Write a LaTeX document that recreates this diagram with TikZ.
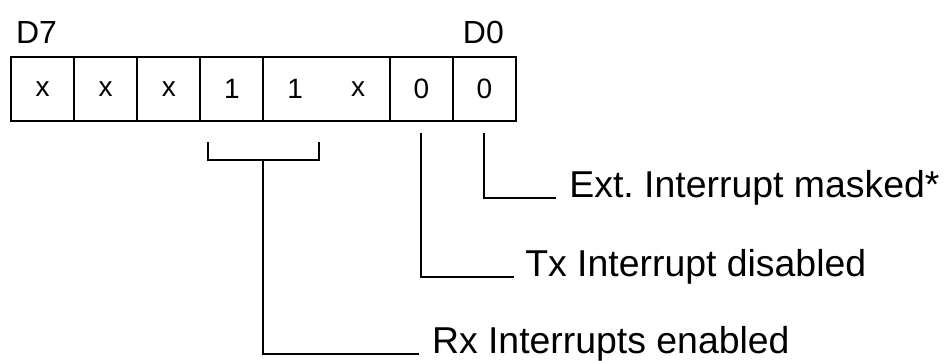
\documentclass[tikz,border=0pt]{standalone}
\usepackage{fontspec}
\setmainfont{Liberation Sans}
\usetikzlibrary{positioning}

\begin{document}
\begin{tikzpicture}[x=1pt,y=1pt,line width=2pt,
  bit/.style={minimum width=63.125pt,minimum height=64pt,inner sep=0pt,outer sep=0pt,font={\fontsize{28}{30}\selectfont}},
  bitnum/.style={inner sep=0pt,anchor=south,font={\fontsize{32}{34}\selectfont}},
  lbl/.style={inner sep=0pt,anchor=base west,font={\fontsize{37.4}{40}\selectfont}}]
\useasboundingbox (0,0) rectangle (946,361);
% register bits D7..D0
\node[bit] (b7) at (42.56,272) {x};
\node[bit,right=0pt of b7] (b6) {x};
\node[bit,right=0pt of b6] (b5) {x};
\node[bit,right=0pt of b5] (b4) {1};
\node[bit,right=0pt of b4] (b3) {1};
\node[bit,right=0pt of b3] (b2) {x};
\node[bit,right=0pt of b2] (b1) {0};
\node[bit,right=0pt of b1] (b0) {0};
\draw (b7.north west) rectangle (b0.south east);
\foreach \c in {b7,b6,b5,b4,b2,b1} \draw (\c.north east) -- (\c.south east);
\node[bitnum] (d7) at ([xshift=-6pt,yshift=12pt]b7.north) {D7};
\node[bitnum] (d0) at ([xshift=-1pt,yshift=12pt]b0.north) {D0};
% labels
\node[lbl] (ext) at ([xshift=84pt,yshift=-77pt]b0.south) {Ext.\ Interrupt masked*};
\node[lbl] (tx) at ([xshift=103pt,yshift=-156pt]b1.south) {Tx Interrupt disabled};
\node[lbl] (rx) at ([xshift=167.5pt,yshift=-233pt]b4.south east) {Rx Interrupts enabled};
\draw ([yshift=-12pt]b0.south) |- ([xshift=-12pt]ext.base west);
\draw ([yshift=-12pt]b1.south) |- ([xshift=-10pt]tx.base west);
\draw ([xshift=8pt,yshift=-21pt]b4.south west) |- ([xshift=-8pt,yshift=-39pt]b3.south east) -- ++(0,18pt);
\draw ([yshift=-39pt]b4.south east) |- ([xshift=-12pt]rx.base west);
\end{tikzpicture}
\end{document}
